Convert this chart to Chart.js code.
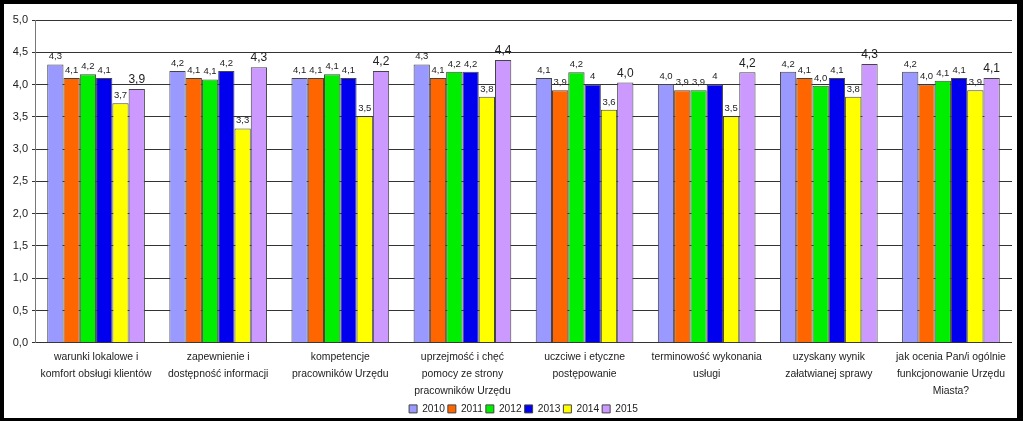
<!DOCTYPE html>
<html>
<head>
<meta charset="utf-8">
<script src="https://cdn.jsdelivr.net/npm/chart.js@4"></script>
<style>
html,body{margin:0;padding:0;background:#000;width:1023px;height:421px;overflow:hidden;}
#wrap{position:absolute;left:4px;top:4px;width:1013px;height:414px;background:#fff;}
</style>
</head>
<body>
<div id="wrap"><canvas id="c" width="1013" height="414"></canvas></div>
<script>
const categories = [
  ["warunki lokalowe i","komfort obsługi klientów"],
  ["zapewnienie i","dostępność informacji"],
  ["kompetencje","pracowników Urzędu"],
  ["uprzejmość i chęć","pomocy ze strony","pracowników Urzędu"],
  ["uczciwe i etyczne","postępowanie"],
  ["terminowość wykonania","usługi"],
  ["uzyskany wynik","załatwianej sprawy"],
  ["jak ocenia Pan/i ogólnie","funkcjonowanie Urzędu","Miasta?"]
];
const years = ["2010","2011","2012","2013","2014","2015"];
const v2010 = [4.31,4.21,4.10,4.31,4.10,4.01,4.20,4.20];
const v2011 = [4.10,4.10,4.10,4.10,3.91,3.91,4.10,4.00];
const v2012 = [4.16,4.08,4.16,4.20,4.19,3.91,3.98,4.06];
const v2013 = [4.10,4.21,4.10,4.20,4.00,4.00,4.10,4.10];
const v2014 = [3.71,3.32,3.51,3.81,3.61,3.51,3.81,3.91];
const v2015 = [3.93,4.27,4.21,4.38,4.03,4.19,4.32,4.10];
const l2010 = ["4,3","4,2","4,1","4,3","4,1","4,0","4,2","4,2"];
const l2011 = ["4,1","4,1","4,1","4,1","3,9","3,9","4,1","4,0"];
const l2012 = ["4,2","4,1","4,1","4,2","4,2","3,9","4,0","4,1"];
const l2013 = ["4,1","4,2","4,1","4,2","4","4","4,1","4,1"];
const l2014 = ["3,7","3,3","3,5","3,8","3,6","3,5","3,8","3,9"];
const l2015 = ["3,9","4,3","4,2","4,4","4,0","4,2","4,3","4,1"];
const yTicks = ["0,0","0,5","1,0","1,5","2,0","2,5","3,0","3,5","4,0","4,5","5,0"];

const values = [v2010,v2011,v2012,v2013,v2014,v2015];
const labels = [l2010,l2011,l2012,l2013,l2014,l2015];
const colors = ["#9999FF","#FF6600","#00EE00","#0000EE","#FFFF00","#CC99FF"];
const FONT = '"Liberation Sans", Arial, sans-serif';

const datasets = years.map((y,i)=>({
  label:y, data:values[i], backgroundColor:colors[i],
  borderColor:"#444", borderWidth:1,
  barPercentage:1.0, categoryPercentage:0.8,
  valueLabels: labels[i], bigLabel: i===5
}));

const valueLabelPlugin = {
  id:'valueLabels',
  afterDatasetsDraw(chart){
    const ctx = chart.ctx;
    ctx.save();
    ctx.fillStyle = '#222';
    ctx.textAlign = 'center';
    ctx.textBaseline = 'bottom';
    chart.data.datasets.forEach((ds,di)=>{
      const meta = chart.getDatasetMeta(di);
      ctx.font = ds.bigLabel ? '12px ' + FONT : '9.5px ' + FONT;
      meta.data.forEach((bar,j)=>{
        ctx.fillText(ds.valueLabels[j], bar.x, bar.y - 3);
      });
    });
    ctx.restore();
  }
};

new Chart(document.getElementById('c'),{
  type:'bar',
  data:{labels:categories, datasets},
  options:{
    responsive:false, animation:false,
    devicePixelRatio:1,
    layout:{padding:{top:16,right:5,left:0,bottom:-6}},
    plugins:{
      legend:{position:'bottom', fullSize:false,
        labels:{boxWidth:8,boxHeight:8,padding:3,color:'#222',
          font:{size:10.2,family:FONT}}},
      tooltip:{enabled:false}
    },
    scales:{
      x:{
        grid:{display:false},
        border:{display:false},
        afterFit(s){s.height=58;},
        ticks:{color:'#222',maxRotation:0,autoSkip:false,padding:-2,
          font:{size:10.4,family:FONT,lineHeight:1.64}}
      },
      y:{
        min:0,max:5,
        afterFit(s){s.width=31;},
        grid:{color:'#333',lineWidth:1,tickLength:3,drawTicks:true},
        border:{color:'#777',width:1},
        ticks:{stepSize:0.5,color:'#222',padding:4,
          font:{size:11,family:FONT},
          callback:(v,i)=>yTicks[i]}
      }
    }
  },
  plugins:[valueLabelPlugin]
});
</script>
</body>
</html>
